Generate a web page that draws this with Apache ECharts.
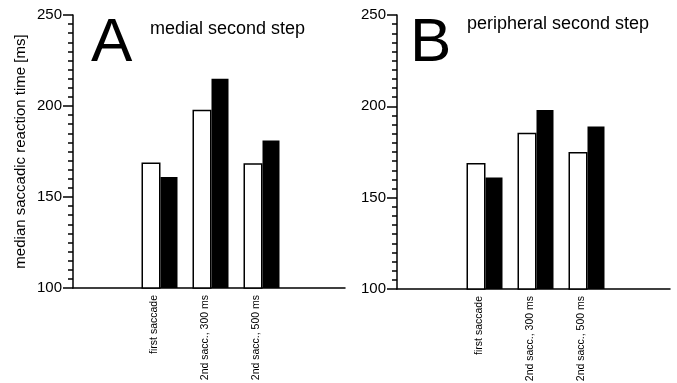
<!DOCTYPE html>
<html><head><meta charset="utf-8">
<script src="https://cdn.jsdelivr.net/npm/echarts@6/dist/echarts.min.js"></script>
<style>html,body{margin:0;padding:0;background:#fff}#c{width:677px;height:383px}</style>
</head><body><div id="c"></div>
<script>
const categories = ['first saccade', '2nd sacc., 300 ms', '2nd sacc., 500 ms'];
const medialWhite = [169, 198, 168.5];
const medialBlack = [161, 215, 181];
const peripheralWhite = [169, 185.5, 175];
const peripheralBlack = [161, 198, 189];
const yMin = 100, yMax = 250, yInterval = 50;
const yAxisTitle = 'median saccadic reaction time [ms]';
const panelLetters = ['A', 'B'];
const panelTitles = ['medial second step', 'peripheral second step'];

const FONT = '"Liberation Sans", Arial, Helvetica, sans-serif';
const chart = echarts.init(document.getElementById('c'), null, {renderer: 'canvas'});

function frameY(gridIndex, withName) {
  return {
    type: 'value', gridIndex, min: yMin, max: yMax, interval: yInterval,
    axisLine: {show: true, lineStyle: {color: '#000', width: 1.5}},
    axisTick: {show: true, inside: false, length: 10, lineStyle: {color: '#000', width: 1.5}},
    minorTick: {show: true, splitNumber: 10, length: 5, lineStyle: {color: '#000', width: 1.5}},
    splitLine: {show: false}, minorSplitLine: {show: false},
    axisLabel: {show: true, margin: 11, fontSize: 15, color: '#000', fontFamily: FONT},
    name: withName ? yAxisTitle : '', nameLocation: 'middle', nameGap: 45,
    nameTextStyle: {fontSize: 15, color: '#000', fontFamily: FONT}
  };
}
function hiddenY(gridIndex) {
  return {type: 'value', gridIndex, min: yMin, max: yMax, interval: yInterval, show: false};
}
function frameX(gridIndex) {
  return {
    type: 'category', gridIndex, data: [''],
    axisLine: {show: true, lineStyle: {color: '#000', width: 1.5}},
    axisTick: {show: false}, axisLabel: {show: false}, splitLine: {show: false}
  };
}
function barX(gridIndex) {
  return {
    type: 'category', gridIndex, data: categories,
    axisLine: {show: false}, axisTick: {show: false}, splitLine: {show: false},
    axisLabel: {show: true, rotate: 90, margin: 7, fontSize: 10.5, color: '#000', fontFamily: FONT,
      interval: 0, verticalAlign: 'bottom'}
  };
}
function whiteBar(idx, data) {
  return {type: 'bar', xAxisIndex: idx, yAxisIndex: idx, data, barWidth: 19, barGap: '0%',
    itemStyle: {color: '#fff', borderColor: '#000', borderWidth: 1.5}, silent: true};
}
function blackBar(idx, data) {
  return {type: 'bar', xAxisIndex: idx, yAxisIndex: idx, data, barWidth: 17, barGap: '0%',
    itemStyle: {color: '#000'}, silent: true};
}
const gridBase = {containLabel: false, outerBoundsMode: 'none'};

chart.setOption({
  animation: false,
  backgroundColor: '#fff',
  textStyle: {fontFamily: FONT},
  title: [
    {text: panelLetters[0], left: 91, top: 13, padding: 0, textStyle: {fontSize: 62, fontWeight: 'normal', color: '#000', fontFamily: FONT}},
    {text: panelTitles[0], left: 150, top: 20, padding: 0, textStyle: {fontSize: 18, fontWeight: 'normal', color: '#000', fontFamily: FONT}},
    {text: panelLetters[1], left: 410, top: 13, padding: 0, textStyle: {fontSize: 62, fontWeight: 'normal', color: '#000', fontFamily: FONT}},
    {text: panelTitles[1], left: 467, top: 15, padding: 0, textStyle: {fontSize: 18, fontWeight: 'normal', color: '#000', fontFamily: FONT}}
  ],
  grid: [
    Object.assign({left: 73, width: 272, top: 15, height: 273}, gridBase),
    Object.assign({left: 134, width: 153, top: 15, height: 273}, gridBase),
    Object.assign({left: 397, width: 273, top: 15, height: 274}, gridBase),
    Object.assign({left: 459, width: 153, top: 15, height: 274}, gridBase)
  ],
  xAxis: [frameX(0), barX(1), frameX(2), barX(3)],
  yAxis: [frameY(0, true), hiddenY(1), frameY(2, false), hiddenY(3)],
  series: [
    whiteBar(1, medialWhite), blackBar(1, medialBlack),
    whiteBar(3, peripheralWhite), blackBar(3, peripheralBlack)
  ]
});
</script></body></html>
